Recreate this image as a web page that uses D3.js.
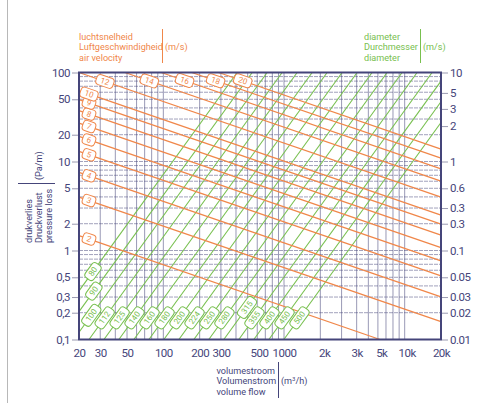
<!DOCTYPE html>
<html><head><meta charset="utf-8">
<script src="https://cdn.jsdelivr.net/npm/d3@7"></script>
<style>
html,body{margin:0;padding:0;background:#fff;}
svg{display:block;font-family:Roboto,"Liberation Sans",sans-serif;}
</style></head>
<body><svg id="c" width="477" height="403"></svg>
<script>
// ---------- data ----------
const xTickValues = [20,30,50,100,200,300,620,1000,2150,4000,6400,10400,20000];
const xTickLabels = ["20","30","50","100","200","300","500","1000","2k","3k","5k","10k","20k"];
const yTickValues = [100,50,20,10,5,2,1,0.5,0.3,0.2,0.1];
const yTickLabels = ["100","50","20","10","5","2","1","0,5","0,3","0,2","0,1"];
const yRTickValues = [10,5.9,3.9,2.5,1,0.5,0.3,0.2,0.1,0.05,0.03,0.02,0.01];
const yRTickLabels = ["10","5","3","2","1","0.6","0.3","0.3","0.1","0.05","0.03","0.02","0.01"];

// air velocity lines (m/s): start / end points (m3/h, Pa/m)
const velocities = [2,3,4,5,6,7,8,9,10,12,14,16,18,20];
const velStartQ  = [20,20,20,20,20,20,20,20,20,20,48,96,172,287];
const velStartDp = [1.47,3.98,7.55,13.0,19.1,27.0,37.2,49.5,62.5,100,100,100,100,100];
const velEndQ    = [6240,20000,20000,20000,20000,20000,20000,20000,20000,20000,20000,20000,20000,20000];
const velEndDp   = [0.1,0.159,0.301,0.519,0.764,1.08,1.49,1.98,2.49,3.99,6.01,8.28,10.9,13.8];
const velLabelQ  = [24.2,24.2,24.2,24.2,24.2,24.2,24.2,24.2,24.2,32.8,76.5,150,271,455];

// diameter lines (mm)
const diameters  = [80,90,100,112,125,140,160,180,200,224,250,280,315,355,400,450,500];
const diaStartQ  = [20,20,20,24.2,32.2,42.8,57.0,75.9,101,134.5,179,238,317,422,562,749,997];
const diaStartDp = [0.352,0.206,0.1205,0.1,0.1,0.1,0.1,0.1,0.1,0.1,0.1,0.1,0.1,0.1,0.1,0.1,0.1];
const diaEndQ    = [409,545,725,965,1285,1711,2277,3031,4035,5372,7152,9520,12677,16877,20000,20000,20000];
const diaEndDp   = [100,100,100,100,100,100,100,100,100,100,100,100,100,100,80.1,46.9,27.4];
const diaLabelDp = [0.58,0.35,0.187,0.175,0.175,0.175,0.175,0.175,0.175,0.175,0.175,0.175,0.229,0.175,0.175,0.175,0.175];

// ---------- drawing ----------
const NAVY = "#45457a", ORANGE = "#f0874a", GREEN = "#78c04f";
const L = 79, R = 441, T = 72.5, B = 339.5;
const svg = d3.select("#c");
const x = d3.scaleLog().domain([20,20000]).range([L,R]);
const y = d3.scaleLog().domain([0.1,100]).range([B,T]);
const yR = d3.scaleLog().domain([0.01,10]).range([B,T]);

// page border
svg.append("line").attr("x1",7.5).attr("x2",7.5).attr("y1",0).attr("y2",403)
  .attr("stroke","#b8b8b8").attr("stroke-width",1);

// grid
const g = svg.append("g");
const xGrid = [], yGrid = [];
for (let e = 1; e <= 4; e++) for (let k = 1; k <= 9; k++) { const v = k*Math.pow(10,e); if (v>=20 && v<=20000) xGrid.push(v); }
for (let e = -1; e <= 2; e++) for (let k = 1; k <= 9; k++) { const v = k*Math.pow(10,e); if (v>=0.1 && v<=100) yGrid.push(+v.toPrecision(3)); }
g.selectAll(".vx").data(xGrid).join("line")
  .attr("x1",d=>x(d)).attr("x2",d=>x(d)).attr("y1",T).attr("y2",B)
  .attr("stroke",NAVY).attr("stroke-opacity",0.55).attr("stroke-width",1);
g.selectAll(".hy").data(yGrid).join("line")
  .attr("x1",L).attr("x2",R).attr("y1",d=>y(d)).attr("y2",d=>y(d))
  .attr("stroke",NAVY).attr("stroke-opacity",0.5).attr("stroke-width",1)
  .attr("stroke-dasharray","4,1");

// lines
function pt(q,dp){ return [x(q), y(dp)]; }
const vel = velocities.map((v,i)=>({v, a:pt(velStartQ[i],velStartDp[i]), b:pt(velEndQ[i],velEndDp[i]), lq:velLabelQ[i]}));
const dia = diameters.map((d,i)=>({d, a:pt(diaStartQ[i],diaStartDp[i]), b:pt(diaEndQ[i],diaEndDp[i]), ldp:diaLabelDp[i]}));

svg.append("g").selectAll("line").data(dia).join("line")
  .attr("x1",d=>d.a[0]).attr("y1",d=>d.a[1]).attr("x2",d=>d.b[0]).attr("y2",d=>d.b[1])
  .attr("stroke",GREEN).attr("stroke-width",1.1);
svg.append("g").selectAll("line").data(vel).join("line")
  .attr("x1",d=>d.a[0]).attr("y1",d=>d.a[1]).attr("x2",d=>d.b[0]).attr("y2",d=>d.b[1])
  .attr("stroke",ORANGE).attr("stroke-width",1.3);

// labels on lines
function drawTag(parent, px, py, ang, txt, col){
  const gg = parent.append("g").attr("transform",`translate(${px},${py}) rotate(${ang})`);
  const w = txt.length*4.9 + 8, h = 10.5;
  gg.append("rect").attr("x",-w/2).attr("y",-h/2).attr("width",w).attr("height",h)
    .attr("rx",3.5).attr("fill","#fff").attr("stroke",col).attr("stroke-width",1);
  gg.append("text").attr("x",0).attr("y",0.5).attr("text-anchor","middle").attr("dominant-baseline","middle")
    .attr("font-size",8).attr("fill",col).text(txt);
}
const tagG = svg.append("g");
vel.forEach(d=>{
  const px = x(d.lq);
  const t = (px-d.a[0])/(d.b[0]-d.a[0]);
  const py = d.a[1] + t*(d.b[1]-d.a[1]);
  const ang = Math.atan2(d.b[1]-d.a[1], d.b[0]-d.a[0])*180/Math.PI;
  drawTag(tagG, px, py, ang, String(d.v), ORANGE);
});
dia.forEach(d=>{
  const py = y(d.ldp);
  const t = (py-d.a[1])/(d.b[1]-d.a[1]);
  const px = d.a[0] + t*(d.b[0]-d.a[0]);
  const ang = Math.atan2(d.b[1]-d.a[1], d.b[0]-d.a[0])*180/Math.PI;
  drawTag(tagG, px, py, ang, String(d.d), GREEN);
});

// frame
svg.append("rect").attr("x",L).attr("y",T).attr("width",R-L).attr("height",B-T)
  .attr("fill","none").attr("stroke",NAVY).attr("stroke-width",2);

// axes
const axL = d3.axisLeft(y).tickValues(yTickValues).tickFormat((d,i)=>yTickLabels[i]).tickSize(6).tickPadding(2);
const axR = d3.axisRight(yR).tickValues(yRTickValues).tickFormat((d,i)=>yRTickLabels[i]).tickSize(6).tickPadding(2);
const axB = d3.axisBottom(x).tickValues(xTickValues).tickFormat((d,i)=>xTickLabels[i]).tickSize(0).tickPadding(9);
function styleAxis(sel){
  sel.select(".domain").remove();
  sel.selectAll(".tick line").attr("stroke","#9a9ab0");
  sel.selectAll(".tick text").attr("fill",NAVY).attr("font-size",11.5)
    .attr("letter-spacing",-0.5).attr("font-family","Roboto,sans-serif");
}
svg.append("g").attr("transform",`translate(${L-1},0)`).call(axL).call(styleAxis);
svg.append("g").attr("transform",`translate(${R+1},0)`).call(axR).call(styleAxis);
svg.append("g").attr("transform",`translate(0,${B})`).call(axB).call(styleAxis);

// titles
function block(xp, yp, lines, col, unit, sepX, unitX, y1, y2){
  const t = svg.append("g").attr("font-size",9.1).attr("fill",col);
  lines.forEach((s,i)=>t.append("text").attr("x",xp).attr("y",yp+i*10.4).text(s));
  svg.append("line").attr("x1",sepX).attr("x2",sepX).attr("y1",y1).attr("y2",y2).attr("stroke",col).attr("stroke-width",1);
  t.append("text").attr("x",unitX).attr("y",yp+10.4).html(unit);
}
block(79, 40, ["luchtsnelheid","Luftgeschwindigheid","air velocity"], ORANGE, "(m/s)", 162.5, 165, 29, 63);
block(364, 40, ["diameter","Durchmesser","diameter"], GREEN, "(m/s)", 420.5, 423, 29, 63);
block(216.5, 374, ["volumestroom","Volumenstrom","volume flow"], NAVY, "(m<tspan dy='-3' font-size='6'>3</tspan><tspan dy='3'>/h)</tspan>", 278.5, 281, 362, 398);

// left rotated title
const lt = svg.append("g").attr("font-size",9.1).attr("fill",NAVY);
["drukverlies","Druckverlust","pressure loss"].forEach((s,i)=>{
  lt.append("text").attr("transform",`translate(${31.5+i*10},243) rotate(-90)`).text(s);
});
lt.append("text").attr("transform",`translate(41.5,180) rotate(-90)`).text("(Pa/m)");
svg.append("line").attr("x1",18).attr("x2",55).attr("y1",183.5).attr("y2",183.5).attr("stroke",NAVY).attr("stroke-width",1);
</script></body></html>
